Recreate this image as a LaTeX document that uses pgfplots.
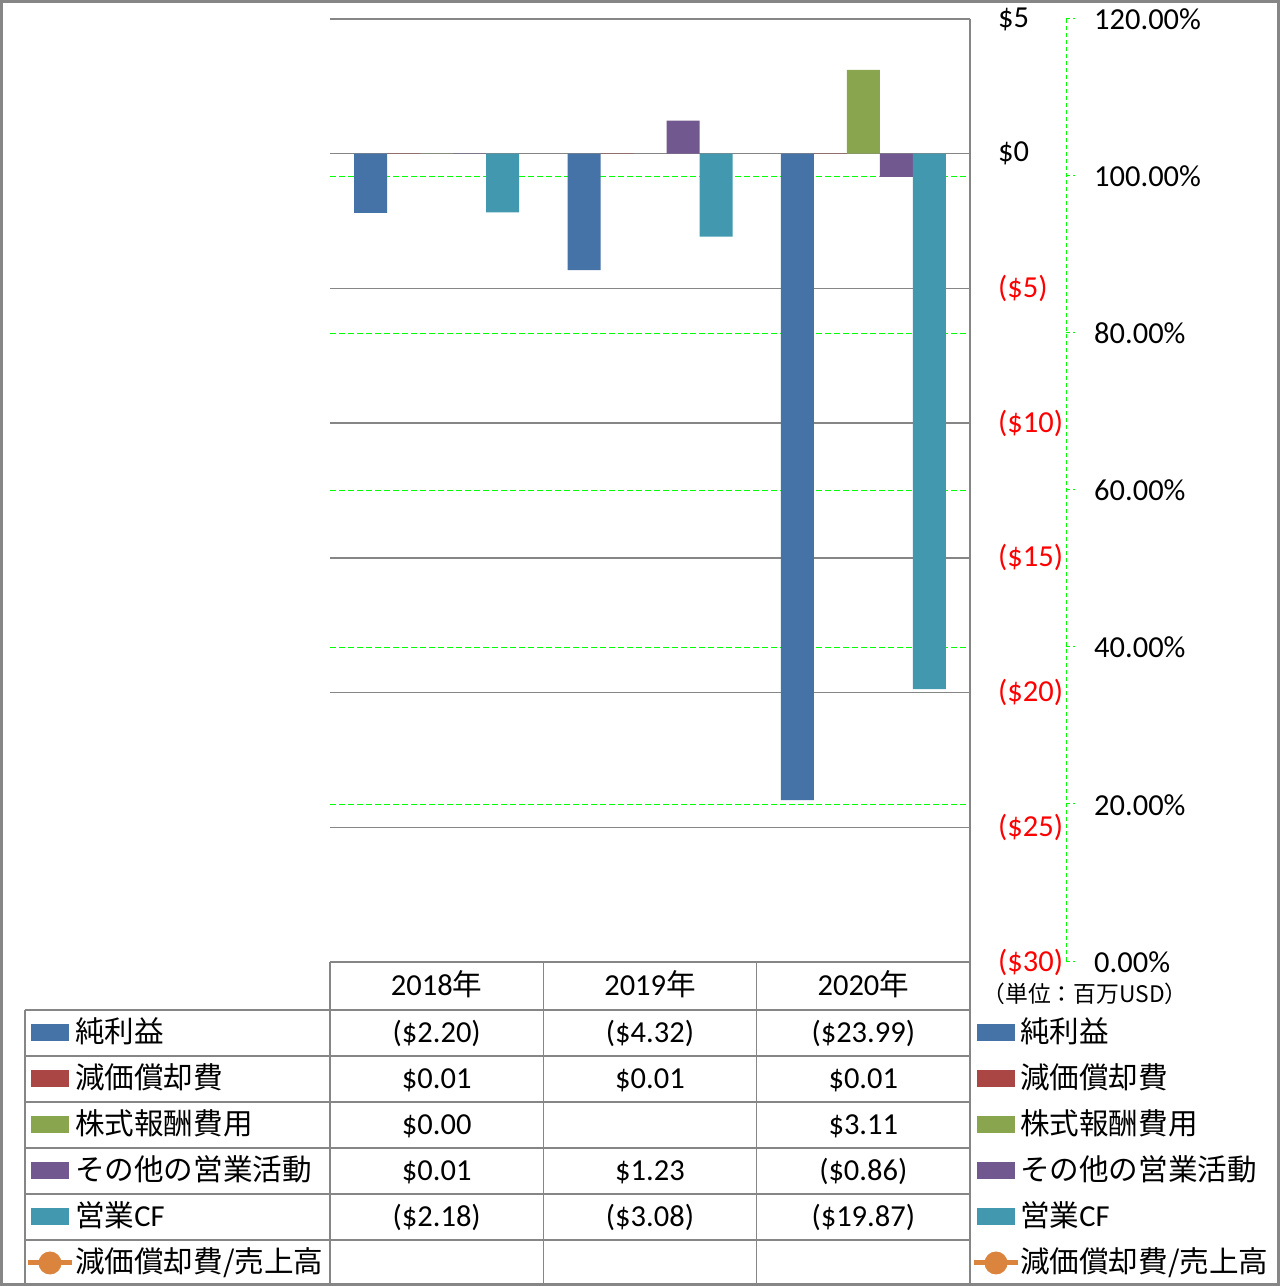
\documentclass[border=0pt]{standalone}
\usepackage{pgfplots}
\pgfplotsset{compat=1.18}
\usepackage{fontspec}
\setmainfont{Carlito}
\newfontfamily\jp[Scale=0.97]{Noto Sans CJK JP}
\definecolor{cNet}{HTML}{4572A7}
\definecolor{cDep}{HTML}{AA4643}
\definecolor{cStk}{HTML}{89A54E}
\definecolor{cOth}{HTML}{71588F}
\definecolor{cCF}{HTML}{4198AF}
\definecolor{cLine}{HTML}{DB843D}
\definecolor{gGray}{HTML}{868686}
\definecolor{gGreen}{HTML}{00FF00}
\begin{document}
\fontsize{30.5}{36}\selectfont
\begin{tikzpicture}[x=1pt,y=1pt]
\useasboundingbox (0,0) rectangle (1280,1286);
% secondary axis (percent)
\begin{axis}[at={(330pt,324pt)}, anchor=south west, scale only axis,
  width=640pt, height=943pt, xmin=-0.5, xmax=2.5, ymin=0, ymax=1.2,
  ytick={0,0.2,0.4,0.6,0.8,1.0,1.2},
  yticklabels={0.00\%,20.00\%,40.00\%,60.00\%,80.00\%,100.00\%,120.00\%},
  yticklabel pos=right,
  yticklabel style={anchor=west, inner sep=0pt, xshift=124pt},
  xtick=\empty, major tick length=0pt,
  axis line style={draw=none},
  ymajorgrids, major grid style={draw=gGreen, line width=1pt, dash pattern=on 6pt off 3pt}]
\addplot[draw=none, forget plot] coordinates {(0,0.5)};
\end{axis}
% primary axis
\begin{axis}[at={(330pt,324pt)}, anchor=south west, scale only axis,
  width=640pt, height=943pt, xmin=-0.5, xmax=2.5, ymin=-30, ymax=5,
  ybar=0pt, bar width=33pt,
  ytick={-30,-25,-20,-15,-10,-5,0,5},
  yticklabels={\textcolor{red}{(\$30)},\textcolor{red}{(\$25)},\textcolor{red}{(\$20)},\textcolor{red}{(\$15)},\textcolor{red}{(\$10)},\textcolor{red}{(\$5)},\$0,\$5},
  yticklabel pos=right,
  yticklabel style={anchor=west, inner sep=0pt, xshift=28pt},
  xtick=\empty, major tick length=0pt,
  axis line style={draw=none},
  ymajorgrids, major grid style={draw=gGray, line width=1.3pt}]
\addplot[fill=cNet, draw=none] coordinates {(0,-2.20) (1,-4.32) (2,-23.99)};
\addplot[fill=cDep, draw=none] coordinates {(0,0.01) (1,0.01) (2,0.01)};
\addplot[fill=cStk, draw=none] coordinates {(0,0.00) (2,3.11)};
\addplot[fill=cOth, draw=none] coordinates {(0,0.01) (1,1.23) (2,-0.86)};
\addplot[fill=cCF, draw=none] coordinates {(0,-2.18) (1,-3.08) (2,-19.87)};
\end{axis}
% secondary axis line with ticks
\draw[gGreen, line width=1pt, dash pattern=on 4pt off 3pt] (1066,1267) -- (1066,324);
\foreach \yy in {1267,1110,953,796,639,482,324} {
  \draw[gGreen, line width=1pt, dash pattern=on 4pt off 3pt] (1066,\yy) -- (1075,\yy);
}
% data table
\begin{scope}[gGray, line width=1.3pt]
\draw (330,324) -- (970,324);
\foreach \yy in {276,230,184,138,92,46} { \draw (25,\yy) -- (970,\yy); }
\draw (25,276) -- (25,0);
\draw (330,324) -- (330,0);
\draw (543.3,324) -- (543.3,0);
\draw (756.7,324) -- (756.7,0);
\draw (970,1267) -- (970,0);
\end{scope}
% header
\node[anchor=base] at (436.7,290) {2018{\jp 年}};
\node[anchor=base] at (650,290) {2019{\jp 年}};
\node[anchor=base] at (863.3,290) {2020{\jp 年}};
% values
\node[anchor=base] at (436.7,243) {(\$2.20)};
\node[anchor=base] at (650,243) {(\$4.32)};
\node[anchor=base] at (863.3,243) {(\$23.99)};
\node[anchor=base] at (436.7,197) {\$0.01};
\node[anchor=base] at (650,197) {\$0.01};
\node[anchor=base] at (863.3,197) {\$0.01};
\node[anchor=base] at (436.7,151) {\$0.00};
\node[anchor=base] at (863.3,151) {\$3.11};
\node[anchor=base] at (436.7,105) {\$0.01};
\node[anchor=base] at (650,105) {\$1.23};
\node[anchor=base] at (863.3,105) {(\$0.86)};
\node[anchor=base] at (436.7,59) {(\$2.18)};
\node[anchor=base] at (650,59) {(\$3.08)};
\node[anchor=base] at (863.3,59) {(\$19.87)};
% legend keys (left and right)
\foreach \kx/\tx in {31/75, 977/1020} {
  \fill[cNet] (\kx,245) rectangle ++(38,17);
  \node[anchor=base west, inner sep=0pt] at (\tx,243) {\jp 純利益};
  \fill[cDep] (\kx,199) rectangle ++(38,17);
  \node[anchor=base west, inner sep=0pt] at (\tx,197) {\jp 減価償却費};
  \fill[cStk] (\kx,153) rectangle ++(38,17);
  \node[anchor=base west, inner sep=0pt] at (\tx,151) {\jp 株式報酬費用};
  \fill[cOth] (\kx,107) rectangle ++(38,17);
  \node[anchor=base west, inner sep=0pt] at (\tx,105) {\jp その他の営業活動};
  \fill[cCF] (\kx,61) rectangle ++(38,17);
  \node[anchor=base west, inner sep=0pt] at (\tx,59) {{\jp 営業}CF};
  \draw[cLine, line width=5pt] (\kx-3,23) -- ++(44,0);
  \fill[cLine] (\kx+19,23) circle (11.5);
  \node[anchor=base west, inner sep=0pt] at (\tx,13) {\jp 減価償却費/売上高};
}
\node[anchor=base, font=\fontsize{23.5}{28}\selectfont\jp] at (1085,283) {（単位：百万USD）};
% outer border
\draw[gGray, line width=3pt] (1.5,1.5) rectangle (1278.5,1284.5);
\end{tikzpicture}
\end{document}
